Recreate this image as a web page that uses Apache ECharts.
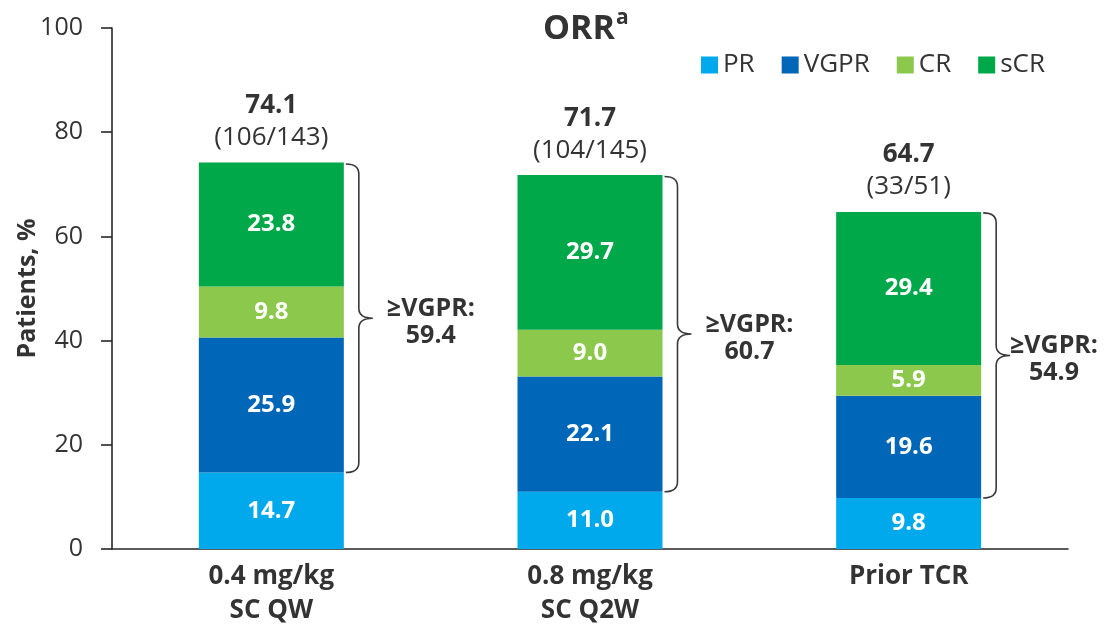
<!DOCTYPE html>
<html>
<head>
<meta charset="utf-8">
<script src="https://cdn.jsdelivr.net/npm/echarts@6/dist/echarts.min.js"></script>
<style>
  html, body { margin: 0; padding: 0; background: #fff; }
  #chart { width: 1104px; height: 629px; }
</style>
</head>
<body>
<div id="chart"></div>
<script>
// Response categories per dosing cohort (% of patients)
const categories = ['0.4 mg/kg\nSC QW', '0.8 mg/kg\nSC Q2W', 'Prior TCR'];
const prValues = [14.7, 11.0, 9.8];
const vgprValues = [25.9, 22.1, 19.6];
const crValues = [9.8, 9.0, 5.9];
const scrValues = [23.8, 29.7, 29.4];
// Overall response rate with responders / evaluable patients
const orrValues = [74.1, 71.7, 64.7];
const orrCounts = ['106/143', '104/145', '33/51'];
// Share of patients with VGPR or better
const atLeastVgpr = [59.4, 60.7, 54.9];

const seriesNames = ['PR', 'VGPR', 'CR', 'sCR'];
const seriesColors = ['#00A9EC', '#0066B8', '#8CC84B', '#00A849'];
const seriesValues = [prValues, vgprValues, crValues, scrValues];

const FONT = '"Open Sans", "Noto Sans", sans-serif';
const TEXT = '#333333';
const AXIS = '#262626';
const BAR_WIDTH_RATIO = 0.455;

const chart = echarts.init(document.getElementById('chart'), null, { renderer: 'canvas' });

const barSeries = seriesNames.map((name, k) => ({
  name: name,
  type: 'bar',
  stack: 'response',
  barWidth: (BAR_WIDTH_RATIO * 100) + '%',
  itemStyle: { color: seriesColors[k] },
  label: {
    show: true,
    position: 'inside',
    color: '#ffffff',
    fontFamily: FONT,
    fontWeight: 'bold',
    fontSize: 24,
    formatter: p => Number(p.value).toFixed(1)
  },
  emphasis: { disabled: true },
  data: seriesValues[k]
}));

// Brace spanning VGPR-or-better, plus ORR totals above each bar
const annotationData = categories.map((c, i) => [i, prValues[i] + atLeastVgpr[i], prValues[i], atLeastVgpr[i], orrValues[i]]);

function renderAnnotation(params, api) {
  const i = api.value(0);
  const topPt = api.coord([i, api.value(1)]);
  const botPt = api.coord([i, api.value(2)]);
  const bandW = api.size([1, 0])[0];
  const barW = bandW * BAR_WIDTH_RATIO;
  const x0 = topPt[0] + barW / 2 + 2;
  const x1 = x0 + 13;
  const x2 = x0 + 27;
  const yT = topPt[1] + 1;
  const yB = botPt[1];
  const yM = (yT + yB) / 2;
  const r = 10;
  const path =
    'M' + x0 + ',' + yT +
    ' Q' + x1 + ',' + yT + ' ' + x1 + ',' + (yT + r) +
    ' L' + x1 + ',' + (yM - r) +
    ' Q' + x1 + ',' + yM + ' ' + x2 + ',' + yM +
    ' Q' + x1 + ',' + yM + ' ' + x1 + ',' + (yM + r) +
    ' L' + x1 + ',' + (yB - r) +
    ' Q' + x1 + ',' + yB + ' ' + x0 + ',' + yB;
  const width = api.getWidth();
  const textCx = Math.min(x2 + 58, width - 50);
  const vgpr = api.value(3);
  const orr = api.value(4);
  const counts = orrCounts[i];
  return {
    type: 'group',
    children: [
      {
        type: 'path',
        shape: { pathData: path },
        style: { fill: null, stroke: '#3a3a3a', lineWidth: 1.6 }
      },
      {
        type: 'text',
        x: textCx,
        y: yM + 4,
        style: {
          text: '≥VGPR:\n' + Number(vgpr).toFixed(1),
          fill: TEXT,
          font: 'bold 25px ' + FONT,
          lineHeight: 27,
          align: 'center',
          verticalAlign: 'middle'
        }
      },
      {
        type: 'text',
        x: topPt[0],
        y: topPt[1] - 57,
        style: {
          text: Number(orr).toFixed(1),
          fill: TEXT,
          font: 'bold 26px ' + FONT,
          align: 'center',
          verticalAlign: 'middle'
        }
      },
      {
        type: 'text',
        x: topPt[0],
        y: topPt[1] - 25,
        style: {
          text: '(' + counts + ')',
          fill: TEXT,
          font: '26px ' + FONT,
          align: 'center',
          verticalAlign: 'middle'
        }
      }
    ]
  };
}

const option = {
  backgroundColor: '#ffffff',
  animation: false,
  textStyle: { fontFamily: FONT },
  title: {
    text: '{m|ORR}{s|a}',
    left: 538,
    top: 3,
    textStyle: {
      rich: {
        m: { fontFamily: FONT, fontSize: 34, fontWeight: 'bold', color: TEXT, lineHeight: 42 },
        s: { fontFamily: FONT, fontSize: 21, fontWeight: 'bold', color: TEXT, verticalAlign: 'top', lineHeight: 30, padding: [0, 0, 0, 1] }
      }
    }
  },
  legend: {
    data: seriesNames,
    right: 54,
    top: 47,
    icon: 'rect',
    itemWidth: 17,
    itemHeight: 17,
    itemGap: 27,
    selectedMode: false,
    textStyle: { fontFamily: FONT, fontSize: 26, color: TEXT }
  },
  grid: { left: 112, right: 36, top: 28, bottom: 80, containLabel: false, outerBoundsMode: 'none' },
  xAxis: {
    type: 'category',
    data: categories,
    axisLine: { show: true, lineStyle: { color: AXIS, width: 1.6 } },
    axisTick: { show: false },
    axisLabel: {
      fontFamily: FONT,
      fontSize: 26,
      fontWeight: 'bold',
      color: TEXT,
      lineHeight: 34,
      margin: 11
    }
  },
  yAxis: {
    type: 'value',
    min: 0,
    max: 100,
    interval: 20,
    name: 'Patients, %',
    nameLocation: 'middle',
    nameGap: 72,
    nameMoveOverlap: false,
    nameTextStyle: { fontFamily: FONT, fontSize: 25, fontWeight: 'bold', color: TEXT },
    axisLine: { show: true, lineStyle: { color: AXIS, width: 1.6 } },
    axisTick: { show: true, length: 11, lineStyle: { color: AXIS, width: 1.6 } },
    axisLabel: { fontFamily: FONT, fontSize: 25, color: TEXT, margin: 29 },
    splitLine: { show: false }
  },
  series: barSeries.concat([{
    name: 'annotations',
    type: 'custom',
    renderItem: renderAnnotation,
    encode: { x: 0, y: 1 },
    z: 5,
    silent: true,
    data: annotationData
  }])
};

chart.setOption(option);
</script>
</body>
</html>
